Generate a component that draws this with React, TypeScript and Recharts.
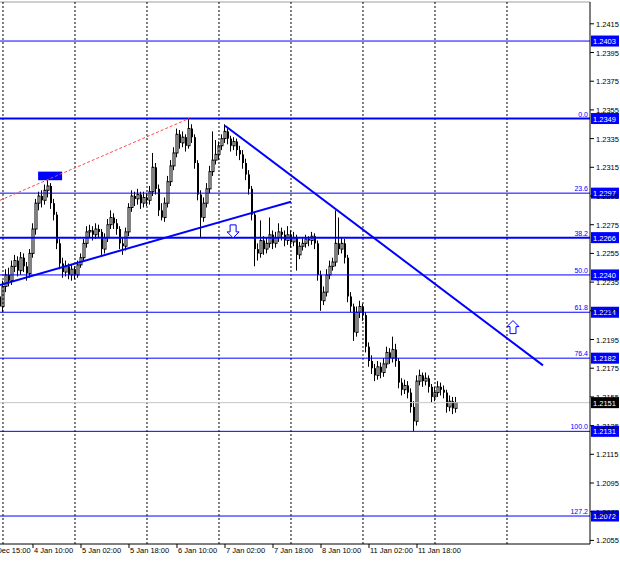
import { ComposedChart, Bar, XAxis, YAxis, ReferenceLine, ReferenceArea, ReferenceDot } from 'recharts';

const FONT = '"Liberation Sans", Arial, sans-serif';
const BLUE = '#0000ff';

// EURUSD H1, [open, high, low, close]; first row is the last bar before 4 Jan 00:00
const candles: [number, number, number, number][] = [
  [1.2225, 1.2228, 1.2208, 1.2218],
  [1.2218, 1.2236, 1.2214, 1.2232],
  [1.2232, 1.2244, 1.2228, 1.2240],
  [1.2240, 1.2245, 1.2232, 1.2236],
  [1.2236, 1.2250, 1.2233, 1.2246],
  [1.2246, 1.2254, 1.2242, 1.2250],
  [1.2250, 1.2253, 1.2239, 1.2243],
  [1.2243, 1.2256, 1.2240, 1.2252],
  [1.2252, 1.2255, 1.2242, 1.2246],
  [1.2246, 1.2249, 1.2236, 1.2241],
  [1.2241, 1.2258, 1.2238, 1.2255],
  [1.2255, 1.2276, 1.2252, 1.2272],
  [1.2272, 1.2293, 1.2268, 1.2290],
  [1.2290, 1.2298, 1.2285, 1.2295],
  [1.2295, 1.2299, 1.2287, 1.2292],
  [1.2292, 1.2303, 1.2289, 1.2299],
  [1.2299, 1.2306, 1.2294, 1.2302],
  [1.2302, 1.2304, 1.2286, 1.2290],
  [1.2290, 1.2293, 1.2278, 1.2282],
  [1.2282, 1.2284, 1.2258, 1.2262],
  [1.2262, 1.2265, 1.2244, 1.2248],
  [1.2248, 1.2252, 1.2238, 1.2242],
  [1.2242, 1.2250, 1.2239, 1.2246],
  [1.2246, 1.2248, 1.2237, 1.2240],
  [1.2240, 1.2247, 1.2236, 1.2244],
  [1.2244, 1.2246, 1.2237, 1.2240],
  [1.2240, 1.2250, 1.2238, 1.2247],
  [1.2247, 1.2255, 1.2245, 1.2252],
  [1.2252, 1.2265, 1.2250, 1.2262],
  [1.2262, 1.2274, 1.2259, 1.2270],
  [1.2270, 1.2275, 1.2266, 1.2271],
  [1.2271, 1.2274, 1.2264, 1.2268],
  [1.2268, 1.2276, 1.2265, 1.2272],
  [1.2272, 1.2275, 1.2266, 1.2270],
  [1.2270, 1.2272, 1.2254, 1.2258],
  [1.2258, 1.2269, 1.2255, 1.2266],
  [1.2266, 1.2279, 1.2263, 1.2275],
  [1.2275, 1.2285, 1.2272, 1.2280],
  [1.2280, 1.2283, 1.2272, 1.2276],
  [1.2276, 1.2279, 1.2268, 1.2272],
  [1.2272, 1.2274, 1.2258, 1.2262],
  [1.2262, 1.2266, 1.2254, 1.2260],
  [1.2260, 1.2273, 1.2257, 1.2270],
  [1.2270, 1.2290, 1.2267, 1.2287],
  [1.2287, 1.2299, 1.2284, 1.2295],
  [1.2295, 1.2298, 1.2288, 1.2293],
  [1.2293, 1.2300, 1.2289, 1.2296],
  [1.2296, 1.2298, 1.2286, 1.2290],
  [1.2290, 1.2298, 1.2287, 1.2294],
  [1.2294, 1.2297, 1.2288, 1.2292],
  [1.2292, 1.2302, 1.2289, 1.2298],
  [1.2298, 1.2325, 1.2295, 1.2315],
  [1.2315, 1.2318, 1.2296, 1.2300],
  [1.2300, 1.2303, 1.2281, 1.2285],
  [1.2285, 1.2290, 1.2278, 1.2280],
  [1.2280, 1.2294, 1.2277, 1.2290],
  [1.2290, 1.2309, 1.2287, 1.2305],
  [1.2305, 1.2320, 1.2302, 1.2316],
  [1.2316, 1.2329, 1.2313, 1.2325],
  [1.2325, 1.2342, 1.2322, 1.2338],
  [1.2338, 1.2341, 1.2328, 1.2332],
  [1.2332, 1.2340, 1.2329, 1.2336],
  [1.2336, 1.2338, 1.2326, 1.2330],
  [1.2330, 1.2349, 1.2328, 1.2342],
  [1.2342, 1.2345, 1.2332, 1.2336],
  [1.2336, 1.2338, 1.2314, 1.2318],
  [1.2318, 1.2320, 1.2292, 1.2296],
  [1.2296, 1.2299, 1.2266, 1.2280],
  [1.2280, 1.2294, 1.2277, 1.2290],
  [1.2290, 1.2304, 1.2287, 1.2300],
  [1.2300, 1.2316, 1.2297, 1.2312],
  [1.2312, 1.2340, 1.2309, 1.2320],
  [1.2320, 1.2334, 1.2317, 1.2324],
  [1.2324, 1.2333, 1.2320, 1.2330],
  [1.2330, 1.2338, 1.2327, 1.2335],
  [1.2335, 1.2345, 1.2332, 1.2340],
  [1.2340, 1.2342, 1.2331, 1.2335],
  [1.2335, 1.2337, 1.2326, 1.2330],
  [1.2330, 1.2336, 1.2327, 1.2333],
  [1.2333, 1.2335, 1.2323, 1.2327],
  [1.2327, 1.2330, 1.2320, 1.2324],
  [1.2324, 1.2327, 1.2314, 1.2318],
  [1.2318, 1.2321, 1.2306, 1.2310],
  [1.2310, 1.2313, 1.2296, 1.2300],
  [1.2300, 1.2302, 1.2278, 1.2282],
  [1.2282, 1.2284, 1.2246, 1.2258],
  [1.2258, 1.2262, 1.2250, 1.2255],
  [1.2255, 1.2278, 1.2252, 1.2264],
  [1.2264, 1.2267, 1.2254, 1.2258],
  [1.2258, 1.2266, 1.2255, 1.2262],
  [1.2262, 1.2280, 1.2259, 1.2268],
  [1.2268, 1.2271, 1.2258, 1.2262],
  [1.2262, 1.2270, 1.2259, 1.2266],
  [1.2266, 1.2276, 1.2263, 1.2270],
  [1.2270, 1.2273, 1.2264, 1.2268],
  [1.2268, 1.2271, 1.2260, 1.2264],
  [1.2264, 1.2274, 1.2261, 1.2268],
  [1.2268, 1.2271, 1.2259, 1.2263],
  [1.2263, 1.2270, 1.2260, 1.2266],
  [1.2266, 1.2268, 1.2243, 1.2254],
  [1.2254, 1.2263, 1.2251, 1.2260],
  [1.2260, 1.2266, 1.2257, 1.2262],
  [1.2262, 1.2268, 1.2259, 1.2265],
  [1.2265, 1.2267, 1.2260, 1.2264],
  [1.2264, 1.2270, 1.2261, 1.2267],
  [1.2267, 1.2269, 1.2258, 1.2262],
  [1.2262, 1.2264, 1.2236, 1.2240],
  [1.2240, 1.2243, 1.2215, 1.2222],
  [1.2222, 1.2232, 1.2219, 1.2228],
  [1.2228, 1.2244, 1.2225, 1.2240],
  [1.2240, 1.2250, 1.2237, 1.2246],
  [1.2246, 1.2252, 1.2243, 1.2249],
  [1.2249, 1.2285, 1.2246, 1.2262],
  [1.2262, 1.2280, 1.2254, 1.2258],
  [1.2258, 1.2266, 1.2255, 1.2262],
  [1.2262, 1.2265, 1.2248, 1.2252],
  [1.2252, 1.2254, 1.2221, 1.2225],
  [1.2225, 1.2228, 1.2214, 1.2218],
  [1.2218, 1.2220, 1.2194, 1.2200],
  [1.2200, 1.2218, 1.2197, 1.2214],
  [1.2214, 1.2222, 1.2210, 1.2218],
  [1.2218, 1.2220, 1.2208, 1.2212],
  [1.2212, 1.2214, 1.2186, 1.2190],
  [1.2190, 1.2193, 1.2176, 1.2180],
  [1.2180, 1.2184, 1.2171, 1.2175],
  [1.2175, 1.2178, 1.2166, 1.2170],
  [1.2170, 1.2180, 1.2167, 1.2176],
  [1.2176, 1.2179, 1.2168, 1.2172],
  [1.2172, 1.2182, 1.2169, 1.2178],
  [1.2178, 1.2190, 1.2175, 1.2186],
  [1.2186, 1.2189, 1.2178, 1.2182],
  [1.2182, 1.2197, 1.2179, 1.2188],
  [1.2188, 1.2192, 1.2176, 1.2180],
  [1.2180, 1.2182, 1.2161, 1.2165],
  [1.2165, 1.2168, 1.2156, 1.2160],
  [1.2160, 1.2167, 1.2157, 1.2163],
  [1.2163, 1.2166, 1.2154, 1.2158],
  [1.2158, 1.2161, 1.2144, 1.2148],
  [1.2148, 1.2152, 1.2131, 1.2138],
  [1.2138, 1.2170, 1.2135, 1.2166],
  [1.2166, 1.2174, 1.2163, 1.2170],
  [1.2170, 1.2172, 1.2162, 1.2166],
  [1.2166, 1.2172, 1.2163, 1.2168],
  [1.2168, 1.2170, 1.2158, 1.2162],
  [1.2162, 1.2164, 1.2151, 1.2155],
  [1.2155, 1.2162, 1.2152, 1.2158],
  [1.2158, 1.2166, 1.2155, 1.2162],
  [1.2162, 1.2165, 1.2156, 1.2160],
  [1.2160, 1.2163, 1.2154, 1.2158],
  [1.2158, 1.2160, 1.2144, 1.2148],
  [1.2148, 1.2156, 1.2145, 1.2152],
  [1.2152, 1.2155, 1.2143, 1.2147],
  [1.2147, 1.2155, 1.2144, 1.2151],
];
const firstBar = -1;

const timeTicks = [-6, 10, 26, 42, 58, 74, 90, 106, 122, 138];
const timeLabels = ['31 Dec 15:00', '4 Jan 10:00', '5 Jan 02:00', '5 Jan 18:00', '6 Jan 10:00', '7 Jan 02:00', '7 Jan 18:00', '8 Jan 10:00', '11 Jan 02:00', '11 Jan 18:00'];
const daySeparators = [0, 24, 48, 72, 96, 120, 144, 168];

const priceTicks = [1.2055, 1.2075, 1.2095, 1.2115, 1.2135, 1.2155, 1.2175, 1.2195, 1.2215, 1.2235, 1.2255, 1.2275, 1.2295, 1.2315, 1.2335, 1.2355, 1.2375, 1.2395, 1.2415];

const levelPrices = [1.2403, 1.2349, 1.2297, 1.2266, 1.2240, 1.2214, 1.2182, 1.2131, 1.2072];
const levelNames = ['', '0.0', '23.6', '38.2', '50.0', '61.8', '76.4', '100.0', '127.2'];
const thickLevels = [1.2349, 1.2266];
const lastPrice = 1.2151;

const trendLines = [
  { from: { x: -1, y: 1.2292 }, to: { x: 62, y: 1.2349 }, color: '#ff4a4a', width: 1, dash: '3 2' },
  { from: { x: -1, y: 1.2233 }, to: { x: 96, y: 1.2291 }, color: BLUE, width: 2, dash: undefined },
  { from: { x: 74, y: 1.2344 }, to: { x: 180, y: 1.2177 }, color: BLUE, width: 2, dash: undefined },
];
const highMark = { x1: 11.7, x2: 19.7, y1: 1.2306, y2: 1.2312 };
const arrows = [
  { x: 76.7, y: 1.2270, dir: 'down' },
  { x: 170, y: 1.2204, dir: 'up' },
];

const rows = candles.map(([o, h, l, c], k) => ({ i: firstBar + k, o, h, l, c, range: [l, h] }));

function Candle(props: any) {
  const { x, width, payload } = props;
  let { y, height } = props;
  if (height < 0) {
    y += height;
    height = -height;
  }
  const { o, h, l, c } = payload;
  const cx = Math.round(x + width / 2);
  const k = h === l ? 0 : height / (h - l);
  const yo = y + (h - o) * k;
  const yc = y + (h - c) * k;
  const top = Math.min(yo, yc);
  const bh = Math.max(1, Math.abs(yc - yo));
  const up = c > o;
  return (
    <g>
      <line x1={cx - 0.5} x2={cx - 0.5} y1={y} y2={y + height} stroke="#000" strokeWidth={1} />
      <rect x={cx - 1} y={top} width={2} height={bh} fill={up ? '#fff' : '#000'} stroke={up ? '#000' : 'none'} strokeWidth={1} />
    </g>
  );
}

function TimeTick({ x, y, payload }: any) {
  const idx = timeTicks.indexOf(payload.value);
  return (
    <text x={x + 1} y={y + 3} fontSize={7.5} fontFamily={FONT} fill="#000" textAnchor="start">
      {timeLabels[idx]}
    </text>
  );
}

function PriceTick({ x, y, payload }: any) {
  return (
    <text x={x} y={y + 3} fontSize={7.5} fontFamily={FONT} fill="#000" textAnchor="start">
      {payload.value.toFixed(4)}
    </text>
  );
}

function LevelLabel({ viewBox, name, price, boxFill }: any) {
  const right = viewBox.x + viewBox.width;
  const ly = viewBox.y;
  return (
    <g>
      {name ? (
        <text x={right - 2} y={ly - 2} fontSize={7} fontFamily={FONT} fill={BLUE} textAnchor="end">
          {name}
        </text>
      ) : null}
      <rect x={right + 1} y={ly - 5.5} width={28} height={11} fill={boxFill} />
      <text x={right + 3} y={ly + 3} fontSize={7.5} fontFamily={FONT} fill="#fff" textAnchor="start">
        {price.toFixed(4)}
      </text>
    </g>
  );
}

function Arrow({ cx, cy, dir }: any) {
  const s = dir === 'down' ? 1 : -1;
  const pts = [
    [cx - 3, cy - 7 * s],
    [cx + 3, cy - 7 * s],
    [cx + 3, cy],
    [cx + 6, cy],
    [cx, cy + 6 * s],
    [cx - 6, cy],
    [cx - 3, cy],
  ]
    .map((p) => p.join(','))
    .join(' ');
  return <polygon points={pts} fill="#fff" stroke={BLUE} strokeWidth={1} />;
}

export default function App() {
  return (
    <div style={{ position: 'absolute', left: -40, top: 0, background: '#fff' }}>
      <ComposedChart width={660} height={563} data={rows} margin={{ top: 2, right: 0, bottom: 0, left: 0 }}>
        <XAxis
          dataKey="i"
          type="number"
          domain={[-14.333, 195.667]}
          allowDataOverflow
          ticks={timeTicks}
          tick={<TimeTick />}
          tickSize={4}
          height={19}
          stroke="#000"
          interval={0}
        />
        <YAxis
          orientation="right"
          type="number"
          domain={[1.20525, 1.24302]}
          allowDataOverflow
          ticks={priceTicks}
          tick={<PriceTick />}
          tickSize={4}
          width={30}
          stroke="#000"
          interval={0}
        />
        <ReferenceLine y={1.24302} stroke="#a0a0a0" strokeWidth={1} />
        {daySeparators.map((d) => (
          <ReferenceLine key={d} x={d} stroke="#000" strokeDasharray="2 2" strokeWidth={1} />
        ))}
        <ReferenceLine
          y={lastPrice}
          stroke="#c8c8c8"
          strokeWidth={1}
          label={<LevelLabel name="" price={lastPrice} boxFill="#000" />}
        />
        <Bar dataKey="range" barSize={3} shape={<Candle />} isAnimationActive={false} />
        {levelPrices.map((p, k) => (
          <ReferenceLine
            key={p}
            y={p}
            stroke={BLUE}
            strokeWidth={thickLevels.includes(p) ? 2 : 1}
            label={<LevelLabel name={levelNames[k]} price={p} boxFill={BLUE} />}
          />
        ))}
        {trendLines.map((t, k) => (
          <ReferenceLine
            key={k}
            segment={[t.from, t.to]}
            stroke={t.color}
            strokeWidth={t.width}
            strokeDasharray={t.dash}
            ifOverflow="visible"
          />
        ))}
        <ReferenceArea x1={highMark.x1} x2={highMark.x2} y1={highMark.y1} y2={highMark.y2} fill={BLUE} fillOpacity={1} stroke="none" />
        {arrows.map((a, k) => (
          <ReferenceDot key={k} x={a.x} y={a.y} r={6} shape={(p: any) => <Arrow cx={p.cx} cy={p.cy} dir={a.dir} />} />
        ))}
      </ComposedChart>
    </div>
  );
}
